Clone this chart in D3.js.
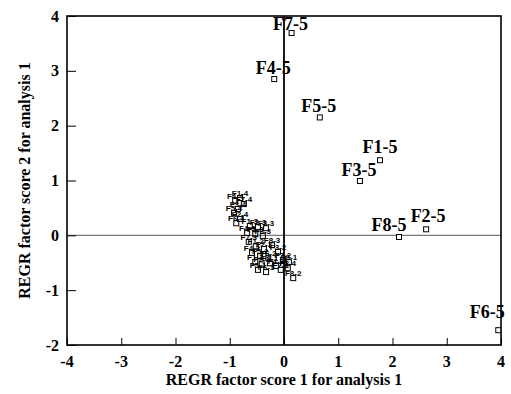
<!DOCTYPE html>
<html><head><meta charset="utf-8">
<script src="https://cdn.jsdelivr.net/npm/d3@7"></script>
<style>
body{margin:0;background:#fff}
svg{display:block}
text{font-family:"Liberation Serif","Times New Roman",serif;fill:#000}
</style></head>
<body><svg id="c" width="511" height="394"></svg>
<script>
// Labelled points at level 5
const mainNames  = ["F1-5","F2-5","F3-5","F4-5","F5-5","F6-5","F7-5","F8-5"];
const mainScore1 = [1.77, 2.62, 1.40, -0.18, 0.66, 3.95, 0.14, 2.12];
const mainScore2 = [1.37, 0.11, 0.99, 2.85, 2.15, -1.73, 3.69, -0.03];

// Cluster near the origin (levels 1-4)
const clusterNames = ["F1-1","F1-2","F1-3","F1-4","F2-1","F2-2","F2-3","F2-4",
                      "F3-1","F3-2","F3-3","F3-4","F4-1","F4-2","F4-3","F4-4",
                      "F5-1","F5-2","F5-3","F5-4","F6-1","F6-2","F6-3","F6-4",
                      "F7-1","F7-2","F7-3","F7-4","F8-1","F8-2","F8-3","F8-4"];
const clusterScore1 = [-0.53,-0.52,-0.63,-0.81, -0.41,-0.37,-0.48,-0.81,
                       -0.26,-0.11,-0.33,-0.85, -0.15,-0.59,-0.68,-0.90,
                       -0.48,-0.44,-0.53,-0.92, -0.33,-0.29,-0.39,-0.88,
                       -0.06,-0.02,-0.65,-0.74,  0.09, 0.17,-0.22, 0.07];
const clusterScore2 = [-0.49,-0.20, 0.17, 0.68, -0.53,-0.25, 0.15, 0.30,
                       -0.51,-0.30, 0.13, 0.48, -0.56,-0.32, 0.04, 0.63,
                       -0.63,-0.38, 0.02, 0.41, -0.67,-0.41,-0.01, 0.22,
                       -0.63,-0.45,-0.12, 0.57, -0.49,-0.78,-0.18,-0.60];

const xTicks = [-4,-3,-2,-1,0,1,2,3,4];
const yTicks = [-2,-1,0,1,2,3,4];
const xTitle = "REGR factor score 1 for analysis 1";
const yTitle = "REGR factor score 2 for analysis 1";

// layout
const W = 511, H = 394;
const m = {left:67, right:10, top:16, bottom:49};
const labelShift = {"F8-5":[-10,-6], "F6-5":[-11,-12], "F1-5":[0,-7], "F2-5":[2,-7], "F7-5":[-1,-3]};

const svg = d3.select("#c");
const x = d3.scaleLinear().domain([-4,4]).range([m.left, W-m.right]);
const y = d3.scaleLinear().domain([-2,4]).range([H-m.bottom, m.top]);

// zero lines
svg.append("line").attr("x1",x(-4)).attr("x2",x(4)).attr("y1",y(0)).attr("y2",y(0))
  .attr("stroke","#777").attr("stroke-width",1.2);
svg.append("line").attr("x1",x(0)).attr("x2",x(0)).attr("y1",y(4)).attr("y2",y(-2))
  .attr("stroke","#000").attr("stroke-width",1.8);

// axes (inward ticks)
const ax = svg.append("g").attr("transform",`translate(0,${y(-2)})`)
  .call(d3.axisTop(x).tickValues(xTicks).tickSize(7).tickFormat(""));
const ay = svg.append("g").attr("transform",`translate(${x(-4)},0)`)
  .call(d3.axisRight(y).tickValues(yTicks).tickSize(9).tickFormat(""));
[ax,ay].forEach(g=>{g.select(".domain").remove(); g.selectAll(".tick line").attr("stroke","#000").attr("stroke-width",1);});

// frame
svg.append("rect").attr("x",x(-4)).attr("y",y(4)).attr("width",x(4)-x(-4)).attr("height",y(-2)-y(4))
  .attr("fill","none").attr("stroke","#000").attr("stroke-width",1.6);

// tick labels
svg.append("g").selectAll("text").data(xTicks).join("text")
  .attr("x",d=>x(d)).attr("y",367).attr("text-anchor","middle")
  .attr("font-size",16).attr("font-weight","bold").text(d=>d);
svg.append("g").selectAll("text").data(yTicks).join("text")
  .attr("x",59).attr("y",d=>y(d)+5.5).attr("text-anchor","end")
  .attr("font-size",16).attr("font-weight","bold").text(d=>d);

// titles
svg.append("text").attr("x",x(0)).attr("y",385).attr("text-anchor","middle")
  .attr("font-size",16).attr("font-weight","bold").text(xTitle);
svg.append("text").attr("transform",`translate(30,${(y(4)+y(-2))/2}) rotate(-90)`)
  .attr("text-anchor","middle").attr("font-size",16).attr("font-weight","bold").text(yTitle);

// cluster
const cl = clusterNames.map((n,i)=>({n, a:clusterScore1[i], b:clusterScore2[i]}));
svg.append("g").selectAll("rect").data(cl).join("rect")
  .attr("x",d=>x(d.a)-2.5).attr("y",d=>y(d.b)-2.5).attr("width",5).attr("height",5)
  .attr("fill","none").attr("stroke","#000").attr("stroke-width",1);
svg.append("g").selectAll("text").data(cl).join("text")
  .attr("x",d=>x(d.a)).attr("y",d=>y(d.b)-2).attr("text-anchor","middle")
  .style("font-family","'Liberation Sans',Arial,sans-serif")
  .attr("font-size",8).attr("font-weight","bold").text(d=>d.n);

// main points
const mp = mainNames.map((n,i)=>({n, a:mainScore1[i], b:mainScore2[i]}));
svg.append("g").selectAll("rect").data(mp).join("rect")
  .attr("x",d=>x(d.a)-2.5).attr("y",d=>y(d.b)-2.5).attr("width",5).attr("height",5)
  .attr("fill","#fff").attr("stroke","#000").attr("stroke-width",1);
svg.append("g").selectAll("text").data(mp).join("text")
  .attr("x",d=>x(d.a)+((labelShift[d.n]||[-1,-5])[0]))
  .attr("y",d=>y(d.b)+((labelShift[d.n]||[-1,-5])[1]))
  .attr("text-anchor","middle").attr("font-size",18).attr("font-weight","bold").text(d=>d.n);
</script></body></html>
